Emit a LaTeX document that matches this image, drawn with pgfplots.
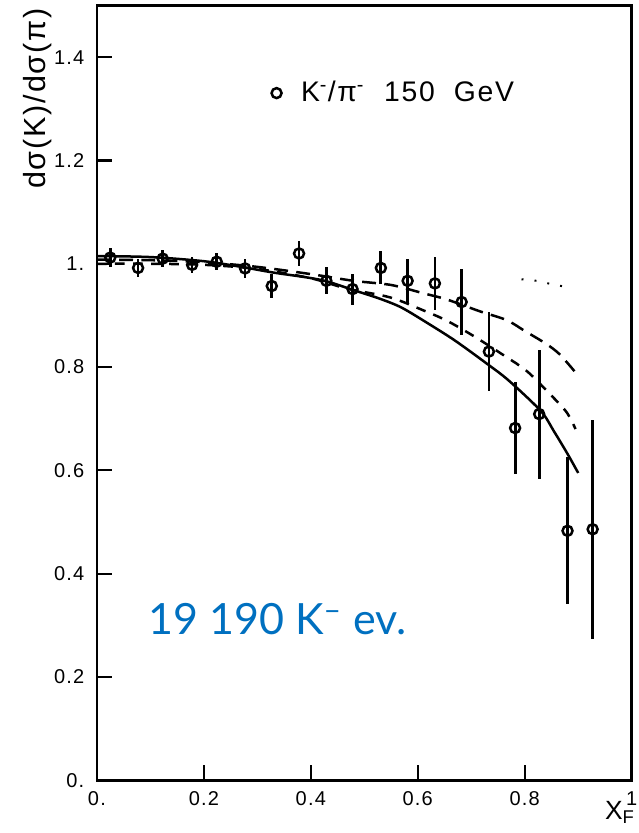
\documentclass[border=0pt]{standalone}
\usepackage{fontspec}
\setmainfont{Liberation Sans}
\newfontfamily\latofont{Lato}
\newfontfamily\widefont[LetterSpace=6]{Liberation Sans}
\usepackage{pgfplots}
\usepackage{pgfplotstable}
\pgfplotsset{compat=1.18}
\definecolor{annblue}{RGB}{0,112,192}

\pgfplotstableread{
x      y      e
0.025  1.012  0.019
0.077  0.992  0.018
0.123  1.010  0.017
0.178  0.998  0.016
0.224  1.004  0.017
0.277  0.991  0.018
0.327  0.957  0.023
0.378  1.020  0.024
0.429  0.967  0.026
0.478  0.951  0.030
0.531  0.992  0.032
0.581  0.967  0.042
0.632  0.962  0.052
0.682  0.926  0.063
0.733  0.830  0.076
0.782  0.682  0.089
0.827  0.709  0.125
0.880  0.483  0.142
0.927  0.486  0.212
}\datatable

\begin{document}
\begin{tikzpicture}
\useasboundingbox (-34.9pt,-19pt) rectangle (195.1pt,281pt);
\begin{axis}[
  scale only axis, width=192.6pt, height=279pt,
  at={(0,0)}, anchor=south west,
  xmin=0, xmax=1, ymin=0, ymax=1.5,
  axis line style={line width=1pt},
  every tick/.style={line width=0.8pt, black},
  xtick={0,0.2,0.4,0.6,0.8,1}, xticklabels={0.,0.2,0.4,0.6,0.8,1},
  ytick={0,0.2,0.4,0.6,0.8,1,1.2,1.4}, yticklabels={0.,0.2,0.4,0.6,0.8,1.,1.2,1.4},
  tick pos=left, tick align=inside, major tick length=5.5pt,
  ticklabel style={font=\widefont\fontsize{7.2}{8}\selectfont},
  xticklabel style={yshift=-0.5pt},
  yticklabel style={xshift=-1pt},
  legend style={draw=none, fill=none, at={(rel axis cs:0.31,0.887)}, anchor=west,
    font=\widefont\fontsize{10.2}{11}\selectfont},
  legend cell align=left,
  clip=false,
]
% solid curve
\addplot[black, line width=0.9pt, smooth, forget plot] coordinates {
(0,1.015)(0.1,1.013)(0.2,1.005)(0.27,0.994)(0.33,0.983)(0.39,0.974)(0.43,0.966)
(0.48,0.949)(0.53,0.932)(0.57,0.915)(0.62,0.884)(0.67,0.851)(0.73,0.806)
(0.77,0.774)(0.83,0.715)(0.855,0.675)(0.88,0.632)(0.90,0.595)};
% upper dashed curve
\addplot[black, line width=0.9pt, smooth, dash pattern=on 5pt off 3pt, forget plot] coordinates {
(0,1.008)(0.1,1.007)(0.2,1.003)(0.3,0.994)(0.4,0.980)(0.48,0.967)(0.55,0.959)
(0.61,0.943)(0.654,0.931)(0.716,0.908)(0.766,0.891)(0.80,0.870)(0.84,0.845)
(0.865,0.825)(0.893,0.792)};
% lower dashed curve
\addplot[black, line width=0.9pt, smooth, dash pattern=on 3.5pt off 3pt, forget plot] coordinates {
(0,1.000)(0.1,1.000)(0.2,0.998)(0.3,0.990)(0.4,0.972)(0.467,0.952)(0.548,0.935)
(0.61,0.910)(0.654,0.890)(0.703,0.861)(0.753,0.828)(0.803,0.793)(0.845,0.750)
(0.878,0.713)(0.895,0.680)};
% faint dotted curve
\addplot[black, line width=0.7pt, smooth, dash pattern=on 0.7pt off 4pt, forget plot] coordinates {
(0.794,0.970)(0.822,0.967)(0.853,0.960)(0.89,0.953)};
% data
\addplot[black, only marks, mark=o, mark size=1.8pt,
  mark options={line width=0.9pt, fill=white},
  error bars/.cd, y dir=both, y explicit, error mark=none,
  error bar style={line width=1pt}]
  table[x=x, y=y, y error=e] {\datatable};
\addlegendentry{\hspace{5pt}K\textsuperscript{-}/π\textsuperscript{-}\ \ 150\ \ GeV}

\node[rotate=90, font=\widefont\fontsize{11}{13}\selectfont] at ([xshift=-21.5pt]rel axis cs:0,0.88) {dσ(K)/dσ(π)};
\node[anchor=north east, font=\fontsize{9.5}{11}\selectfont, inner sep=0pt] at ([xshift=1.5pt,yshift=-7.5pt]rel axis cs:1,0) {X\textsubscript{F}};
\node[anchor=base west, text=annblue, font=\latofont\fontsize{15.5}{18}\selectfont, inner sep=0pt] at (axis cs:0.095,0.282) {19 190 K\textsuperscript{–} ev.};
\end{axis}
\end{tikzpicture}
\end{document}
